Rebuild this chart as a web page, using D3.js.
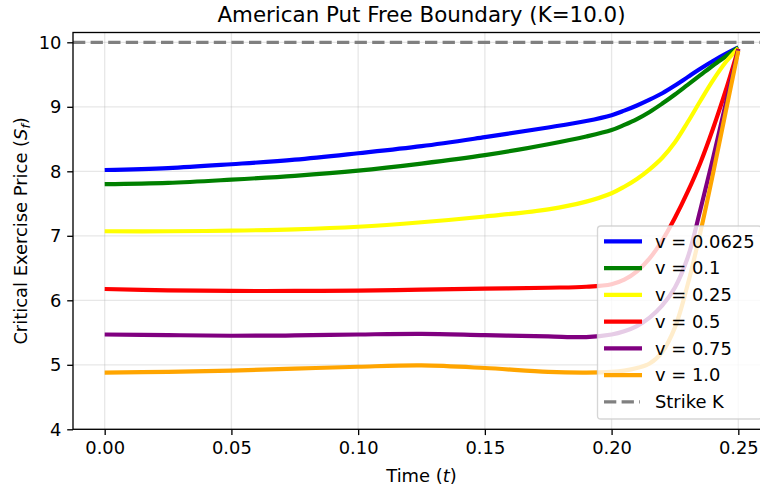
<!DOCTYPE html>
<html>
<head>
<meta charset="utf-8">
<script src="https://cdn.jsdelivr.net/npm/d3@7"></script>
<style>
  body { margin: 0; background: #fff; overflow: hidden; }
  svg { display: block; font-family: "DejaVu Sans", sans-serif; }
</style>
</head>
<body>
<svg id="chart" width="760" height="490"></svg>
<script>
// Time grid (years) on which the free boundary was sampled
const timeGrid = [0, 0.025, 0.05, 0.075, 0.1, 0.125, 0.15, 0.175, 0.19, 0.2,
                  0.205, 0.21, 0.215, 0.22, 0.225, 0.23, 0.235, 0.24, 0.245, 0.25];

// Critical exercise price S_f(t) for each volatility
const boundaryV00625 = [8.02, 8.05, 8.11, 8.18, 8.28, 8.39, 8.53, 8.68, 8.78, 8.87,
                        8.94, 9.02, 9.11, 9.21, 9.33, 9.46, 9.59, 9.71, 9.82, 9.92];
const boundaryV010   = [7.80, 7.82, 7.87, 7.93, 8.01, 8.12, 8.25, 8.42, 8.54, 8.64,
                        8.72, 8.81, 8.92, 9.05, 9.19, 9.34, 9.49, 9.64, 9.78, 9.92];
const boundaryV025   = [7.07, 7.07, 7.08, 7.10, 7.14, 7.21, 7.30, 7.41, 7.53, 7.66,
                        7.76, 7.88, 8.03, 8.21, 8.45, 8.76, 9.09, 9.41, 9.69, 9.91];
const boundaryV050   = [6.175, 6.155, 6.145, 6.145, 6.15, 6.165, 6.18, 6.195, 6.21, 6.25,
                        6.32, 6.45, 6.65, 6.93, 7.28, 7.68, 8.13, 8.66, 9.25, 9.90];
const boundaryV075   = [5.47, 5.46, 5.45, 5.455, 5.47, 5.48, 5.46, 5.44, 5.43, 5.47,
                        5.52, 5.60, 5.73, 5.92, 6.20, 6.66, 7.40, 8.20, 9.04, 9.89];
const boundaryV100   = [4.88, 4.89, 4.91, 4.94, 4.97, 4.99, 4.95, 4.89, 4.88, 4.89,
                        4.91, 4.95, 5.02, 5.20, 5.58, 6.24, 7.05, 7.96, 8.92, 9.87];

const volatilities = ["0.0625", "0.1", "0.25", "0.5", "0.75", "1.0"];
const strikePrice = 10.0;

const xTickValues = [0, 0.05, 0.1, 0.15, 0.2, 0.25];
const yTickValues = [4, 5, 6, 7, 8, 9, 10];

// Styling
const lineColors = ["blue", "green", "yellow", "red", "purple", "orange"];
const seriesList = [boundaryV00625, boundaryV010, boundaryV025, boundaryV050, boundaryV075, boundaryV100];

const svg = d3.select("#chart");
const margin = { left: 73, top: 32.5, right: 770, bottom: 429.3 };

const x = d3.scaleLinear().domain([-0.0125, 0.2625]).range([margin.left, margin.right]);
const y = d3.scaleLinear().domain([4, 10.152]).range([margin.bottom, margin.top]);

const fs = 17.9;

// clip region of the axes
svg.append("defs").append("clipPath").attr("id", "plotClip")
  .append("rect")
  .attr("x", margin.left).attr("y", margin.top)
  .attr("width", margin.right - margin.left).attr("height", margin.bottom - margin.top);

// grid
const grid = svg.append("g");
grid.selectAll("line.vx").data(xTickValues).join("line")
  .attr("x1", d => x(d)).attr("x2", d => x(d))
  .attr("y1", margin.top).attr("y2", margin.bottom)
  .attr("stroke", "#b0b0b0").attr("stroke-opacity", 0.3).attr("stroke-width", 1.33);
grid.selectAll("line.hy").data(yTickValues).join("line")
  .attr("x1", margin.left).attr("x2", margin.right)
  .attr("y1", d => y(d)).attr("y2", d => y(d))
  .attr("stroke", "#b0b0b0").attr("stroke-opacity", 0.3).attr("stroke-width", 1.33);

// boundary curves
const line = d3.line()
  .x((d, i) => x(timeGrid[i]))
  .y(d => y(d))
  .curve(d3.curveCatmullRom.alpha(0.5));

const plot = svg.append("g").attr("clip-path", "url(#plotClip)");
seriesList.forEach((s, k) => {
  plot.append("path")
    .attr("d", line(s))
    .attr("fill", "none")
    .attr("stroke", lineColors[k])
    .attr("stroke-width", 4.17)
    .attr("stroke-linejoin", "round");
});

// strike line
plot.append("line")
  .attr("x1", margin.left).attr("x2", margin.right)
  .attr("y1", y(strikePrice)).attr("y2", y(strikePrice))
  .attr("stroke", "gray").attr("stroke-width", 3.33)
  .attr("stroke-dasharray", "12.3,5.3");

// axes
const xAxis = d3.axisBottom(x).tickValues(xTickValues).tickFormat(d3.format(".2f"))
  .tickSizeOuter(0).tickSizeInner(5.8).tickPadding(5.8);
const yAxis = d3.axisLeft(y).tickValues(yTickValues).tickFormat(d3.format("d"))
  .tickSizeOuter(0).tickSizeInner(5.8).tickPadding(5.8);

const gx = svg.append("g").attr("transform", `translate(0,${margin.bottom})`).call(xAxis);
const gy = svg.append("g").attr("transform", `translate(${margin.left},0)`).call(yAxis);
[gx, gy].forEach(g => {
  g.select(".domain").remove();
  g.selectAll(".tick line").attr("stroke", "#000").attr("stroke-width", 1.33);
  g.selectAll(".tick text").attr("fill", "#000")
    .style("font-family", "DejaVu Sans").style("font-size", fs + "px");
});

// spines
svg.append("rect")
  .attr("x", margin.left).attr("y", margin.top)
  .attr("width", margin.right - margin.left).attr("height", margin.bottom - margin.top)
  .attr("fill", "none").attr("stroke", "#000").attr("stroke-width", 1.33);

const cx = (margin.left + margin.right) / 2;
const cy = (margin.top + margin.bottom) / 2;

// title
svg.append("text")
  .attr("x", cx).attr("y", 21.5)
  .attr("text-anchor", "middle")
  .style("font-size", "21.4px")
  .text("American Put Free Boundary (K=10.0)");

// x label
const xl = svg.append("text")
  .attr("x", cx).attr("y", 482)
  .attr("text-anchor", "middle")
  .style("font-size", fs + "px");
xl.append("tspan").text("Time (");
xl.append("tspan").style("font-style", "italic").text("t");
xl.append("tspan").text(")");

// y label
const yl = svg.append("text")
  .attr("transform", `translate(27,${cy}) rotate(-90)`)
  .attr("text-anchor", "middle")
  .style("font-size", fs + "px");
yl.append("tspan").text("Critical Exercise Price (");
yl.append("tspan").style("font-style", "italic").text("S");
yl.append("tspan").style("font-style", "italic").style("font-size", (fs * 0.7) + "px")
  .attr("dy", 3).text("f");
yl.append("tspan").attr("dy", -3).text(")");

// legend
const legendLabels = volatilities.map(v => `v = ${v}`).concat(["Strike K"]);
const legend = svg.append("g");
legend.append("rect")
  .attr("x", 597.5).attr("y", 226)
  .attr("width", 164).attr("height", 193)
  .attr("rx", 3.3)
  .attr("fill", "#fff").attr("fill-opacity", 0.8)
  .attr("stroke", "#cccccc").attr("stroke-opacity", 0.8).attr("stroke-width", 1.33);

const rowY = i => 241.3 + i * 26.75;
legendLabels.forEach((lab, i) => {
  const isStrike = i === legendLabels.length - 1;
  legend.append("line")
    .attr("x1", 604).attr("x2", isStrike ? 640 : 642)
    .attr("y1", rowY(i)).attr("y2", rowY(i))
    .attr("stroke", isStrike ? "gray" : lineColors[i])
    .attr("stroke-width", isStrike ? 3.33 : 4.17)
    .attr("stroke-dasharray", isStrike ? "12.3,5.3" : null);
  legend.append("text")
    .attr("x", 655).attr("y", rowY(i))
    .attr("dy", "0.36em")
    .style("font-size", fs + "px")
    .text(lab);
});
</script>
</body>
</html>
